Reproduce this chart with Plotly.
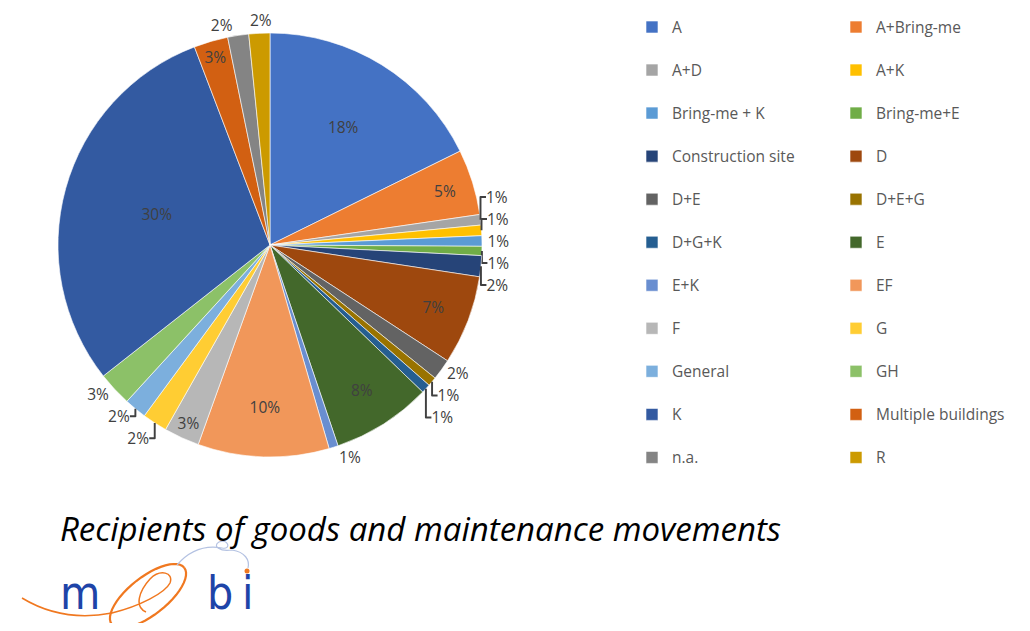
import math
import plotly.graph_objects as go

# ---- data ----
categories = ["A", "A+Bring-me", "A+D", "A+K", "Bring-me + K", "Bring-me+E",
              "Construction site", "D", "D+E", "D+E+G", "D+G+K", "E",
              "E+K", "EF", "F", "G", "General", "GH",
              "K", "Multiple buildings", "n.a.", "R"]
shares = [17.7, 5.0, 0.8, 0.8, 0.8, 0.7,
          1.6, 6.8, 1.6, 0.7, 0.7, 7.6,
          0.7, 10.0, 2.7, 1.9, 1.7, 2.6,
          29.8, 2.6, 1.6, 1.6]
colors = ["#4472C4", "#ED7D31", "#A5A5A5", "#FFC000", "#5B9BD5", "#70AD47",
          "#264478", "#9E480E", "#636363", "#997300", "#255E91", "#43682B",
          "#698ED0", "#F1975A", "#B7B7B7", "#FFCD33", "#7CAFDD", "#8CC168",
          "#335AA1", "#D26012", "#848484", "#CC9A00"]
label_pos = ["inside", "inside", "outside", "outside", "outside", "outside",
             "outside", "inside", "outside", "outside", "outside", "inside",
             "outside", "inside", "inside", "outside", "outside", "outside",
             "inside", "inside", "outside", "none"]
title_text = "Recipients of goods and maintenance movements"

# page body has an 8px margin; build in reference-pixel coordinates
OFF = 8
W, H = 1030 - 2 * OFF, 631 - 2 * OFF
ML, MR = 0, 420
PW = W - ML - MR


def px(x):
    return (x - OFF - ML) / PW


def py(y):
    return (H - (y - OFF)) / H


# pie geometry (reference pixels)
cx, cy, r = 270, 245, 212
label_font = dict(family="Open Sans, sans-serif", size=15.5, color="#404040")

legend_labels = [f"<span style='font-size:15.5px;baseline-shift:6px'>{c}</span>" for c in categories]

fig = go.Figure()
fig.add_trace(go.Pie(
    labels=legend_labels,
    values=shares,
    sort=False,
    direction="clockwise",
    rotation=0,
    marker=dict(colors=colors, line=dict(color="white", width=0.6)),
    texttemplate="%{percent:.0%}",
    textposition=label_pos,
    insidetextorientation="horizontal",
    textfont=label_font,
    insidetextfont=label_font,
    outsidetextfont=label_font,
    domain=dict(x=[px(cx - r), px(cx + r)], y=[py(cy + r), py(cy - r)]),
    hoverinfo="label+percent",
))

# the last slice's outside label sits beside its neighbour (derived from the data)
total = sum(shares)
mid = (total - shares[-1] / 2) / total
theta = 2 * math.pi * mid
lx = cx + (r + 1) * math.sin(theta)
ly = cy - (r + 1) * math.cos(theta)
last_label = dict(text=f"{round(100 * shares[-1] / total)}%", x=px(lx + 2), y=py(ly),
                  xref="paper", yref="paper", xanchor="center", yanchor="bottom",
                  borderpad=0, showarrow=False, font=label_font)


def pth(pts_cmds):
    out = []
    for cmd, pts in pts_cmds:
        if cmd == "L":
            out.extend(f"L {px(x):.5f},{py(y):.5f}" for x, y in pts)
        else:
            coords = " ".join(f"{px(x):.5f},{py(y):.5f}" for x, y in pts)
            out.append(f"{cmd} {coords}")
    return " ".join(out)


orange = "#F07820"
# logo: tilted oval
ex, ey, ea, eb, phi = 148, 596, 46, 19, math.radians(38)
oval = []
for k in range(49):
    t = 2 * math.pi * k / 48
    x = ex + ea * math.cos(t) * math.cos(phi) - eb * math.sin(t) * math.sin(phi)
    y = ey - (ea * math.cos(t) * math.sin(phi) + eb * math.sin(t) * math.cos(phi))
    oval.append((x, y))
fig.add_shape(type="path", xref="paper", yref="paper", line=dict(color=orange, width=2.2),
              path=pth([("M", [oval[0]]), ("L", oval[1:])]))
# swoosh entering the oval and the inner "e" stroke
fig.add_shape(type="path", xref="paper", yref="paper", line=dict(color=orange, width=1.5),
              path=pth([("M", [(22, 598)]),
                        ("C", [(45, 612), (75, 620), (112, 613)]),
                        ("C", [(140, 606), (165, 593), (170, 583)]),
                        ("C", [(174, 572), (160, 569), (150, 579)]),
                        ("C", [(139, 591), (134, 607), (146, 612)])]))
# logo: thin blue arc with small loop
fig.add_shape(type="path", xref="paper", yref="paper", line=dict(color="#B4C2E2", width=1.2),
              path=pth([("M", [(177, 565)]),
                        ("C", [(190, 550), (205, 545), (222, 548)]),
                        ("C", [(232, 550), (228, 538), (219, 542)]),
                        ("C", [(212, 546), (220, 552), (232, 550)]),
                        ("C", [(245, 552), (250, 560), (248, 568)])]))
fig.add_shape(type="circle", xref="paper", yref="paper", fillcolor=orange, line=dict(width=0),
              x0=px(244.5), x1=px(249.5), y0=py(573.5), y1=py(568.5))

narrow = "Liberation Sans Narrow, DejaVu Sans Condensed, sans-serif"
logo_blue = "#1E44A8"
annotations = [
    dict(text=title_text, x=px(58), y=py(528), xref="paper", yref="paper",
         xanchor="left", yanchor="middle", showarrow=False,
         font=dict(family="Open Sans, sans-serif", size=33, color="#000000", style="italic")),
    dict(text="m", x=px(58), y=py(593), xref="paper", yref="paper",
         xanchor="left", yanchor="middle", showarrow=False,
         font=dict(family=narrow, size=46, color=logo_blue)),
    dict(text="b", x=px(205), y=py(593), xref="paper", yref="paper",
         xanchor="left", yanchor="middle", showarrow=False,
         font=dict(family=narrow, size=46, color=logo_blue)),
    dict(text="i", x=px(240), y=py(593), xref="paper", yref="paper",
         xanchor="left", yanchor="middle", showarrow=False,
         font=dict(family=narrow, size=46, color=logo_blue)),
    last_label,
]

fig.update_layout(
    width=W, height=H,
    margin=dict(l=ML, r=MR, t=0, b=0, autoexpand=False),
    paper_bgcolor="white", plot_bgcolor="white",
    showlegend=True,
    legend=dict(
        orientation="h",
        x=px(632), xanchor="left",
        y=py(0.5), yanchor="top",
        entrywidth=159, entrywidthmode="pixels",
        maxheight=1,
        font=dict(family="Open Sans, sans-serif", size=30.8, color="#595959"),
        itemclick=False, itemdoubleclick=False,
        bgcolor="rgba(0,0,0,0)",
    ),
    annotations=annotations,
)

fig.write_html("out.html")
